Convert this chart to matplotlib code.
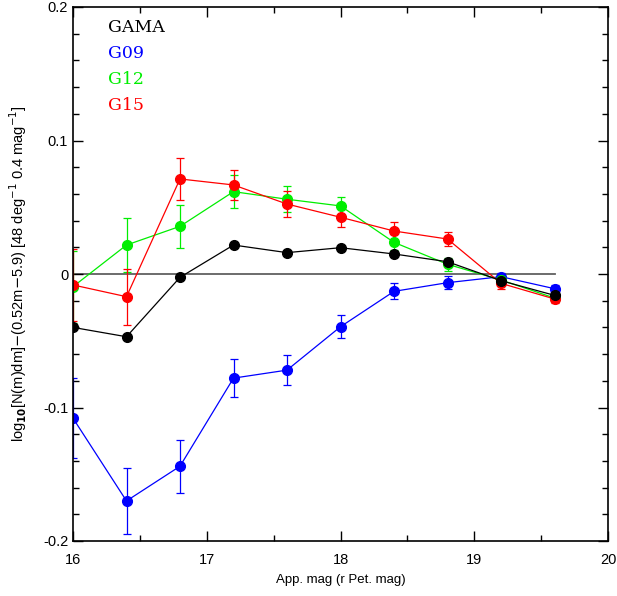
"""Galaxy number counts relative to a power law, per GAMA field."""

import matplotlib.pyplot as plt
import numpy as np
from matplotlib.ticker import MultipleLocator

mag = [16.0, 16.4, 16.8, 17.2, 17.6, 18.0, 18.4, 18.8, 19.2, 19.6]

gama = [-0.040, -0.047, -0.0025, 0.0217, 0.016, 0.0197, 0.015, 0.0092, -0.005, -0.016]

g09 = [-0.108, -0.170, -0.144, -0.078, -0.072, -0.0395, -0.013, -0.0065, -0.002, -0.011]
g09_err = [0.030, 0.025, 0.020, 0.014, 0.011, 0.0086, 0.006, 0.0047, 0.003, 0.003]

g12 = [-0.0095, 0.0217, 0.0357, 0.0617, 0.056, 0.051, 0.0237, 0.0073, -0.0045, -0.018]
g12_err = [0.027, 0.020, 0.016, 0.0125, 0.0097, 0.007, 0.006, 0.005, 0.003, 0.003]

g15 = [-0.0082, -0.017, 0.0712, 0.0667, 0.0524, 0.0425, 0.0322, 0.0262, -0.007, -0.0187]
g15_err = [0.027, 0.021, 0.0154, 0.0112, 0.0094, 0.0075, 0.0064, 0.0049, 0.004, 0.003]

labels = ["GAMA", "G09", "G12", "G15"]
colours = ["black", "#0000ff", "#00ee00", "#ff0000"]

plt.rcParams["font.family"] = ["Liberation Sans", "DejaVu Sans"]

fig = plt.figure(figsize=(6.17, 5.96), dpi=100)
ax = fig.add_axes([73 / 617, 55 / 596, 535 / 617, 534 / 596])

ax.plot([mag[0], mag[-1]], [0, 0], color="#606060", lw=1.3, zorder=1)

series = [(g09, g09_err, colours[1]), (g12, g12_err, colours[2]), (g15, g15_err, colours[3])]
for values, errors, colour in series:
    ax.errorbar(mag, values, yerr=errors, color=colour, marker="o", ms=7,
                lw=0.9, elinewidth=0.9, capsize=3, capthick=0.9, zorder=2)
ax.plot(mag, gama, color="black", marker="o", ms=7, lw=0.9, zorder=3)

for i, (label, colour) in enumerate(zip(labels, colours)):
    ax.text(16.26, 0.185 - i * 0.0197, label, color=colour, fontsize=12.5,
            family="DejaVu Serif", va="center", ha="left")

ax.set_xlim(16, 20)
ax.set_ylim(-0.2, 0.2)
ax.xaxis.set_major_locator(MultipleLocator(1))
ax.xaxis.set_minor_locator(MultipleLocator(0.5))
ax.yaxis.set_major_locator(MultipleLocator(0.1))
ax.yaxis.set_minor_locator(MultipleLocator(0.02))
ax.yaxis.set_major_formatter(plt.FuncFormatter(lambda v, _: "0" if abs(v) < 1e-9 else f"{v:g}"))
ax.tick_params(which="both", direction="in", top=True, right=True, labelsize=10.5, width=1)
ax.tick_params(which="major", length=7)
ax.tick_params(which="minor", length=4)
ax.tick_params(axis="x", pad=9)
for spine in ax.spines.values():
    spine.set_linewidth(1.2)

ax.set_xlabel("App. mag (r Pet. mag)", fontsize=9.5, labelpad=5)
ax.set_ylabel(r"log$_{\mathbf{10}}$[N(m)dm]$-$(0.52m$-$5.9) [48 deg$^{-1}$ 0.4 mag$^{-1}$]",
              fontsize=10.5, labelpad=10)

fig.savefig("out.png", dpi=100)
